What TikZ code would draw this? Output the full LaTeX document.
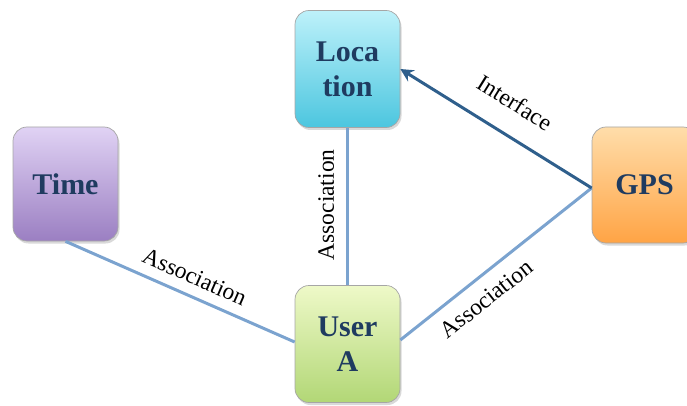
\documentclass[tikz,border=0pt]{standalone}
\usepackage{fontspec}
\setmainfont{Liberation Serif}
\usetikzlibrary{arrows.meta,shadows,calc}
\definecolor{txtblue}{HTML}{1F3B60}
\definecolor{linkblue}{HTML}{7BA3CF}
\definecolor{ifblue}{HTML}{2F5F8C}
\definecolor{locT}{HTML}{BDF1FA}\definecolor{locB}{HTML}{4CC6DF}
\definecolor{timT}{HTML}{E0D2F4}\definecolor{timB}{HTML}{9B7FC2}
\definecolor{gpsT}{HTML}{FFDDAA}\definecolor{gpsB}{HTML}{FFA445}
\definecolor{usrT}{HTML}{EEF9C8}\definecolor{usrB}{HTML}{B2D776}
\tikzset{
  entity/.style={rounded corners=14pt, minimum width=105pt, minimum height=117pt,
    draw=black!35, line width=0.7pt, align=center, text=txtblue,
    font=\fontsize{30}{35}\selectfont\bfseries,
    drop shadow={shadow xshift=1.5pt, shadow yshift=-2.5pt, opacity=0.3}},
  link/.style={draw=linkblue, line width=3pt},
  iflink/.style={draw=ifblue, line width=3pt, -{Stealth[length=13pt,width=13pt]}},
  lbl/.style={font=\fontsize{23.5}{25}\selectfont, inner sep=0pt, text=black, sloped}
}
\begin{document}
\begin{tikzpicture}[x=1pt,y=-1pt]
\useasboundingbox (0,0) rectangle (687,406);
\node[entity, top color=locT, bottom color=locB] (loc) at (347.5,69) {Loca\\tion};
\node[entity, top color=timT, bottom color=timB, minimum height=114pt] (time) at (65.5,184) {Time};
\node[entity, top color=gpsT, bottom color=gpsB, minimum height=116pt] (gps) at (644.5,185) {GPS};
\node[entity, top color=usrT, bottom color=usrB] (usr) at (347.5,344) {User\\A};
\coordinate (gpsw) at ([yshift=-3pt]gps.west);
\coordinate (usre) at ([yshift=4pt]usr.east);
\coordinate (usrw) at ([yshift=2pt]usr.west);
\draw[link] (time.south) -- (usrw) node[lbl, pos=0.53, above=10pt] {Association};
\draw[link] (usr.north) -- (loc.south) node[lbl, pos=0.51, above=12pt] {Association};
\draw[link] (usre) -- (gpsw) node[lbl, pos=0.38, below=12pt] {Association};
\draw[iflink] (gpsw) -- (loc.east) node[lbl, pos=0.49, above=22pt] {Interface};
\end{tikzpicture}
\end{document}
